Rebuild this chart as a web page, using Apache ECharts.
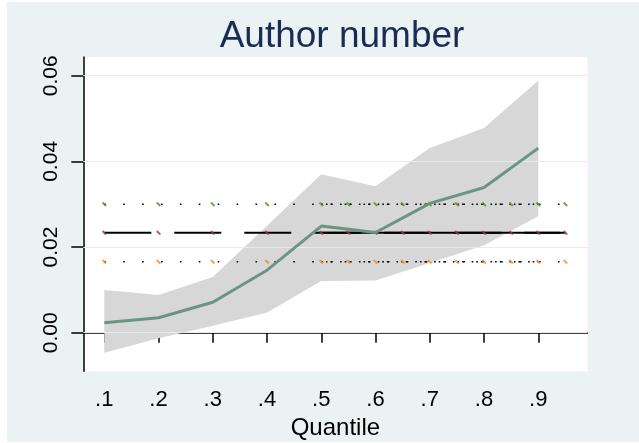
<!DOCTYPE html>
<html>
<head>
<meta charset="utf-8">
<script src="https://cdn.jsdelivr.net/npm/echarts@6/dist/echarts.min.js"></script>
<style>
html,body{margin:0;padding:0;background:#ffffff;}
#wrap{position:relative;width:639px;height:443px;background:#ffffff;overflow:hidden;}
#chart{position:absolute;left:7px;top:2px;width:632px;height:440px;}
</style>
</head>
<body>
<div id="wrap"><div id="chart"></div></div>
<script>
// ---- data ----
const titleText = 'Author number';
const xTitle = 'Quantile';
const quantiles = [0.1, 0.2, 0.3, 0.4, 0.5, 0.6, 0.7, 0.8, 0.9];
const xTickLabels = ['.1', '.2', '.3', '.4', '.5', '.6', '.7', '.8', '.9'];
const coef   = [0.0023, 0.0035, 0.0071, 0.0146, 0.0249, 0.0234, 0.0302, 0.0339, 0.0431];
const ciLow  = [-0.0047, -0.0013, 0.0016, 0.0047, 0.0121, 0.0122, 0.0163, 0.0204, 0.0272];
const ciHigh = [0.0100, 0.0088, 0.0130, 0.0250, 0.0370, 0.0342, 0.0431, 0.0478, 0.0589];
const yTicks = [0.00, 0.02, 0.04, 0.06];
const yTickLabels = ['0.00', '0.02', '0.04', '0.06'];
// OLS estimate and its confidence interval
const olsCoef = 0.02335;
const olsLow = 0.01658;
const olsHigh = 0.0300;
const olsMarkX = [0.1, 0.2, 0.3, 0.4, 0.5, 0.55, 0.6, 0.65, 0.7, 0.75, 0.8, 0.85, 0.9, 0.95];
const olsSpan = [0.1, 0.95];
const olsSolidSpan = [0.5, 0.94];
const olsDenseSpan = [0.5, 0.9];

const chart = echarts.init(document.getElementById('chart'));
const FONT = '"Liberation Sans", Arial, Helvetica, sans-serif';

function hline(xs, y) { return xs.map(x => [x, y]); }

const option = {
  backgroundColor: '#EAF2F3',
  animation: false,
  title: {
    text: titleText,
    left: 330, top: 11, textAlign: 'center',
    textStyle: { fontFamily: FONT, fontSize: 37, fontWeight: 'normal', color: '#1C2B53' }
  },
  grid: {
    left: 76.3, right: 51.5, top: 55, bottom: 70.7,
    containLabel: false, outerBoundsMode: 'none',
    show: true, backgroundColor: '#ffffff', borderWidth: 0
  },
  xAxis: {
    type: 'value', min: 0.0613, max: 0.9907,
    axisLine: { show: true, lineStyle: { color: '#000', width: 1.5 } },
    axisTick: { show: true, customValues: quantiles, length: 10, lineStyle: { color: '#000', width: 1.5 } },
    axisLabel: {
      customValues: quantiles, margin: 18,
      formatter: v => xTickLabels[quantiles.findIndex(q => Math.abs(q - v) < 1e-9)],
      fontFamily: FONT, fontSize: 22, color: '#000'
    },
    splitLine: { show: false },
    name: xTitle, nameLocation: 'middle', nameGap: 41,
    nameTextStyle: { fontFamily: FONT, fontSize: 24, color: '#000' }
  },
  yAxis: {
    type: 'value', min: -0.00901, max: 0.06437,
    axisLine: { show: true, lineStyle: { color: '#000', width: 1.5 } },
    axisTick: { show: true, customValues: yTicks, length: 12, lineStyle: { color: '#000', width: 1.5 } },
    axisLabel: {
      customValues: yTicks, rotate: 90, margin: 22,
      formatter: v => yTickLabels[yTicks.findIndex(t => Math.abs(t - v) < 1e-9)],
      fontFamily: FONT, fontSize: 21, color: '#000'
    },
    splitLine: { show: false }
  },
  series: [
    {
      name: 'grid', type: 'line', data: [], silent: true, z: 1,
      markLine: {
        silent: true, symbol: ['none', 'none'], label: { show: false },
        lineStyle: { color: '#E3EDEF', width: 1, type: 'solid' },
        data: yTicks.map(t => ({ yAxis: t }))
      }
    },
    {
      name: 'band', type: 'custom', z: 2, silent: true,
      data: [[0.5, 0.02]],
      renderItem: function (params, api) {
        const pts = [];
        for (let i = 0; i < quantiles.length; i++) pts.push(api.coord([quantiles[i], ciHigh[i]]));
        for (let i = quantiles.length - 1; i >= 0; i--) pts.push(api.coord([quantiles[i], ciLow[i]]));
        return { type: 'polygon', shape: { points: pts }, style: { fill: '#D7D7D7' } };
      }
    },
    {
      name: 'olsHigh', type: 'line', z: 3, symbol: 'none', silent: true,
      data: hline(olsSpan, olsHigh),
      lineStyle: { color: '#000', width: 1.6, type: [1.6, 17.3], dashOffset: 0 }
    },
    {
      name: 'olsHighDense', type: 'line', z: 3, symbol: 'none', silent: true,
      data: hline(olsDenseSpan, olsHigh),
      lineStyle: { color: '#000', width: 1.6, type: [1.6, 3, 1.6, 3, 1.6, 8], dashOffset: 0 }
    },
    {
      name: 'olsLow', type: 'line', z: 3, symbol: 'none', silent: true,
      data: hline(olsSpan, olsLow),
      lineStyle: { color: '#000', width: 1.6, type: [1.6, 17.3], dashOffset: 0 }
    },
    {
      name: 'olsLowDense', type: 'line', z: 3, symbol: 'none', silent: true,
      data: hline(olsDenseSpan, olsLow),
      lineStyle: { color: '#000', width: 1.6, type: [1.6, 3, 1.6, 3, 1.6, 8], dashOffset: 0 }
    },
    {
      name: 'ols', type: 'line', z: 3, symbol: 'none', silent: true,
      data: hline(olsSpan, olsCoef),
      lineStyle: { color: '#000', width: 2, type: [47, 23] }
    },
    {
      name: 'olsSolid', type: 'line', z: 3, symbol: 'none', silent: true,
      data: hline(olsSolidSpan, olsCoef),
      lineStyle: { color: '#000', width: 2, type: 'solid' }
    },
    {
      name: 'markHigh', type: 'scatter', z: 4, silent: true,
      data: hline(olsMarkX, olsHigh),
      symbol: 'rect', symbolSize: [5, 2], symbolRotate: -45,
      itemStyle: { color: '#5B8C31' }
    },
    {
      name: 'markMid', type: 'scatter', z: 4, silent: true,
      data: hline(olsMarkX, olsCoef),
      symbol: 'rect', symbolSize: [5, 2], symbolRotate: -45,
      itemStyle: { color: '#A0384F' }
    },
    {
      name: 'markLow', type: 'scatter', z: 4, silent: true,
      data: hline(olsMarkX, olsLow),
      symbol: 'rect', symbolSize: [5, 2], symbolRotate: -45,
      itemStyle: { color: '#F0901E' }
    },
    {
      name: 'coef', type: 'line', z: 5, symbol: 'none', silent: true,
      data: quantiles.map((q, i) => [q, coef[i]]),
      lineStyle: { color: '#6B9583', width: 3 }
    }
  ]
};
chart.setOption(option);
</script>
</body>
</html>
